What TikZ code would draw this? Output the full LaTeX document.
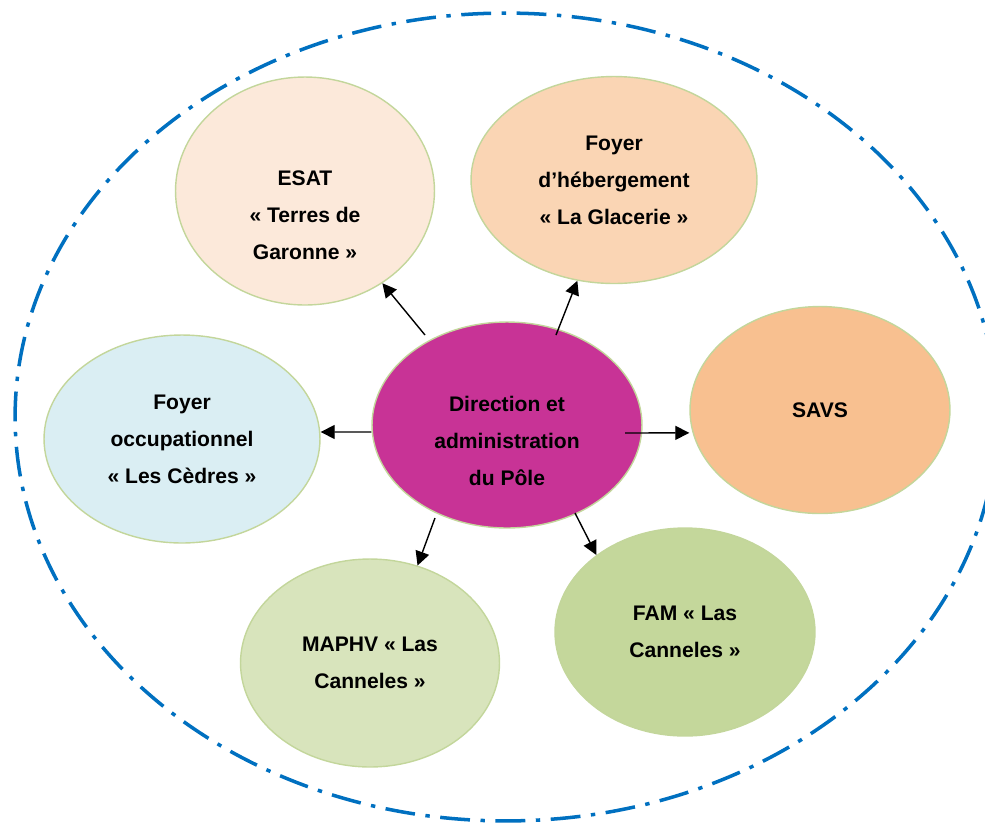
\documentclass[tikz,border=0pt]{standalone}
\usepackage{fontspec}
\setmainfont{Liberation Sans}
\usetikzlibrary{arrows.meta}
\usetikzlibrary{shapes.geometric}

\definecolor{esatfond}{HTML}{FCE9DA}
\definecolor{hebfond}{HTML}{FAD5B4}
\definecolor{savsfond}{HTML}{F8C090}
\definecolor{occfond}{HTML}{DAEEF3}
\definecolor{dirfond}{HTML}{C83396}
\definecolor{maphvfond}{HTML}{D8E4BC}
\definecolor{famfond}{HTML}{C4D79B}
\definecolor{bord}{HTML}{C3D69B}
\definecolor{pole}{HTML}{0070C0}

\begin{document}
\begin{tikzpicture}[x=0.02cm, y=-0.02cm]
	\path[use as bounding box, clip] (0,0) rectangle (985,823);
	\draw[pole, line width=2pt, dash pattern=on 17pt off 6pt on 2.5pt off 6pt] (506,417) ellipse [x radius=9.82cm, y radius=8.08cm];

	\begin{scope}[every node/.style={ellipse, draw=bord, line width=0.8pt, inner sep=0pt}]
		\node[fill=esatfond, minimum width=5.18cm, minimum height=4.56cm] (esat) at (305,191) {};
		\node[fill=hebfond, minimum width=5.72cm, minimum height=4.14cm] (heb) at (614,180) {};
		\node[fill=savsfond, minimum width=5.2cm, minimum height=4.14cm] (savs) at (820,410) {};
		\node[fill=occfond, minimum width=5.52cm, minimum height=4.16cm] (occ) at (182,439) {};
		\node[fill=dirfond, minimum width=5.4cm, minimum height=4.12cm] (dir) at (507,425) {};
		\node[fill=maphvfond, minimum width=5.18cm, minimum height=4.16cm] (maphv) at (370,663) {};
		\node[fill=famfond, minimum width=5.2cm, minimum height=4.16cm] (fam) at (685,632) {};
	\end{scope}

	\begin{scope}[every node/.style={align=center, font=\bfseries\fontsize{12}{21}\selectfont}]
		\node (esattxt) at ([yshift=-14pt]esat.center) {ESAT\\« Terres de\\Garonne »};
		\node (hebtxt) at (heb.center) {Foyer\\d’hébergement\\« La Glacerie »};
		\node (savstxt) at (savs.center) {SAVS};
		\node (occtxt) at (occ.center) {Foyer\\occupationnel\\« Les Cèdres »};
		\node (dirtxt) at ([yshift=-9pt]dir.center) {Direction et\\administration\\du Pôle};
		\node (maphvtxt) at (maphv.center) {MAPHV « Las\\Canneles »};
		\node (famtxt) at (fam.center) {FAM « Las\\Canneles »};
	\end{scope}

	\begin{scope}[>={Triangle[length=8pt, width=8pt]},
	              every edge/.style={draw=black, line width=0.8pt, ->}]
		\path ([shift={(-82,-90)}]dir.center) edge (esat.-50);
		\path ([shift={(49,-90)}]dir.center) edge (heb.-110);
		\path ([shift={(118,8)}]dir.center) edge ([yshift=-13pt]savs.west);
		\path ([yshift=-4pt]dir.west) edge ([yshift=4pt]occ.east);
		\path ([shift={(-72,93)}]dir.center) edge (maphv.64);
		\path ([shift={(68,88)}]dir.center) edge (fam.139);
	\end{scope}
\end{tikzpicture}
\end{document}
